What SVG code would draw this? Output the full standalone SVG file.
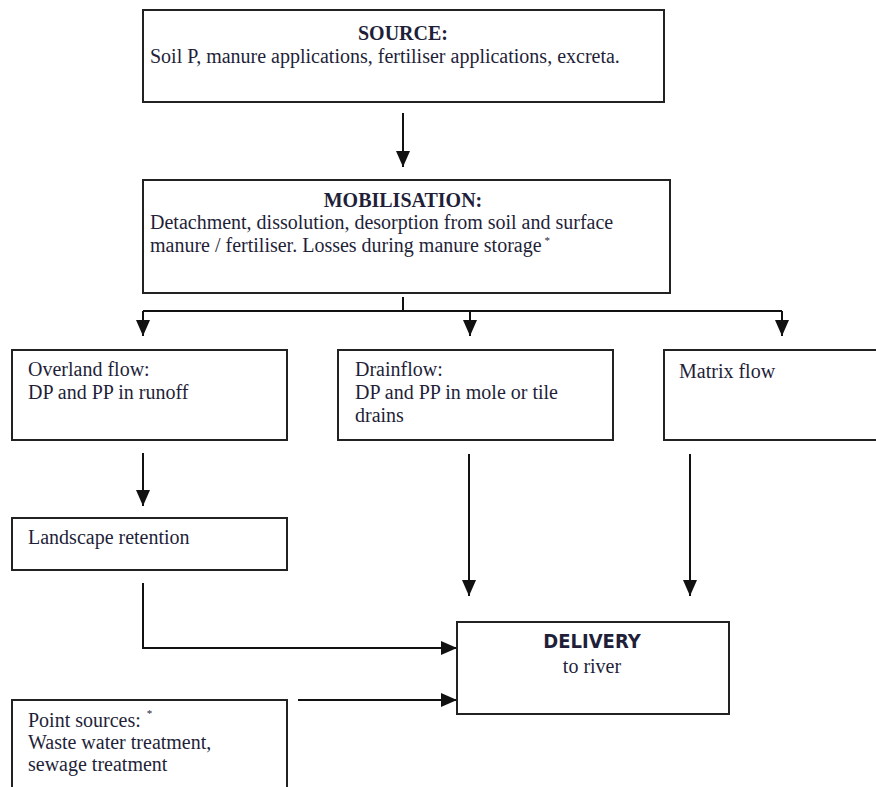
<svg xmlns="http://www.w3.org/2000/svg" width="876" height="787" viewBox="0 0 876 787">
<style>
.box{fill:#fff;stroke:#222;stroke-width:2}
.t{font-family:"Liberation Serif","Times New Roman",serif;font-size:20px;fill:#1f1f3a}
.b{font-weight:bold}
.c{text-anchor:middle}
.sup{font-size:11px}
.ln{fill:none;stroke:#111;stroke-width:2}
.sans{font-family:"DejaVu Sans Condensed","DejaVu Sans","Liberation Sans",sans-serif;font-weight:bold;font-size:20px;fill:#1f1f3a}
</style>
<defs>
<marker id="ah" viewBox="0 0 16 16" refX="16" refY="8" markerWidth="16" markerHeight="16" markerUnits="userSpaceOnUse" orient="auto">
<path d="M0,1 L16,8 L0,15 Z" fill="#111"/>
</marker>
</defs>
<rect width="876" height="787" fill="#fff"/>
<g id="connectors">
<path class="ln" d="M403,113 V167" marker-end="url(#ah)"/>
<path class="ln" d="M403,297 V311"/>
<path class="ln" d="M143,311 H782"/>
<path class="ln" d="M143,311 V336" marker-end="url(#ah)"/>
<path class="ln" d="M470,311 V336" marker-end="url(#ah)"/>
<path class="ln" d="M782,311 V336" marker-end="url(#ah)"/>
<path class="ln" d="M143,453 V506" marker-end="url(#ah)"/>
<path class="ln" d="M469,454 V596" marker-end="url(#ah)"/>
<path class="ln" d="M690,454 V596" marker-end="url(#ah)"/>
<path class="ln" d="M143,583 V648 H457" marker-end="url(#ah)"/>
<path class="ln" d="M298,700 H457" marker-end="url(#ah)"/>
</g>
<g id="source">
<rect class="box" x="143" y="10" width="521" height="92"/>
<text class="t b c" x="403" y="40">SOURCE:</text>
<text class="t" x="150" y="63">Soil P, manure applications, fertiliser applications, excreta.</text>
</g>
<g id="mobilisation">
<rect class="box" x="143" y="180" width="527" height="113"/>
<text class="t b c" x="403" y="207">MOBILISATION:</text>
<text class="t" x="150" y="229">Detachment, dissolution, desorption from soil and surface</text>
<text class="t" x="150" y="252">manure / fertiliser. Losses during manure storage<tspan class="sup" dx="3" dy="-8">*</tspan></text>
</g>
<g id="overland">
<rect class="box" x="12" y="350" width="275" height="90"/>
<text class="t" x="28" y="376">Overland flow:</text>
<text class="t" x="28" y="399">DP and PP in runoff</text>
</g>
<g id="drainflow">
<rect class="box" x="338" y="350" width="275" height="90"/>
<text class="t" x="355" y="376">Drainflow:</text>
<text class="t" x="355" y="399">DP and PP in mole or tile</text>
<text class="t" x="355" y="422">drains</text>
</g>
<g id="matrix">
<rect class="box" x="664" y="350" width="230" height="90"/>
<text class="t" x="679" y="378">Matrix flow</text>
</g>
<g id="landscape">
<rect class="box" x="12" y="518" width="275" height="52"/>
<text class="t" x="28" y="544">Landscape retention</text>
</g>
<g id="delivery">
<rect class="box" x="457" y="622" width="272" height="92"/>
<text class="sans c" x="592" y="648">DELIVERY</text>
<text class="t c" x="592" y="673">to river</text>
</g>
<g id="point">
<rect class="box" x="12" y="700" width="275" height="100"/>
<text class="t" x="28" y="727">Point sources:<tspan class="sup" dx="6" dy="-10">*</tspan></text>
<text class="t" x="28" y="749">Waste water treatment,</text>
<text class="t" x="28" y="771">sewage treatment</text>
</g>
</svg>
